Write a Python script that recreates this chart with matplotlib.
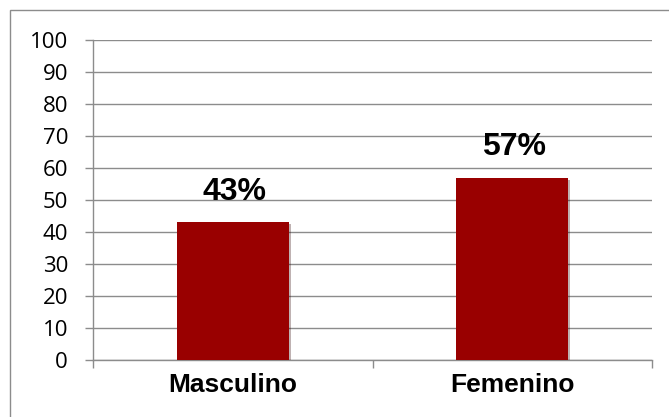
import matplotlib
matplotlib.use("Agg")
import matplotlib.pyplot as plt
import matplotlib.patches as patches
import matplotlib.patheffects as pe

categories = ["Masculino", "Femenino"]
percentages = [43, 57]
y_ticks = [0, 10, 20, 30, 40, 50, 60, 70, 80, 90, 100]

bar_color = "#990000"
grid_color = "#8c8c8c"

plt.rcParams["font.family"] = ["Open Sans", "DejaVu Sans"]

fig = plt.figure(figsize=(6.69, 4.17), dpi=100)
fig.patch.set_facecolor("white")

# chart frame, runs off the right and bottom edges
frame = patches.Rectangle((10 / 669, -0.1), 1.2, 1 - 10 / 417 + 0.1,
                          transform=fig.transFigure, fill=False,
                          edgecolor="#8c8c8c", linewidth=1.0)
fig.patches.append(frame)

ax = fig.add_axes([93 / 669, 1 - 360 / 417, (652 - 93) / 669, 320 / 417])

x = list(range(len(categories)))
bars = ax.bar(x, percentages, width=0.4, color=bar_color, zorder=3)
for b in bars:
    b.set_path_effects([pe.SimplePatchShadow(offset=(1.5, -1.5), alpha=0.3),
                        pe.Normal()])

for xi, v in zip(x, percentages):
    ax.annotate(f"{v}%", (xi, v), xytext=(1, 16), textcoords="offset points",
                ha="center", va="baseline", fontsize=23, fontweight="bold",
                family="Liberation Sans", zorder=4)

ax.set_xlim(-0.5, 1.5)
ax.set_ylim(0, 100)
ax.set_yticks(y_ticks)
ax.yaxis.grid(True, color=grid_color, linewidth=1.0, zorder=0)
ax.set_axisbelow(True)

ax.set_xticks(x)
ax.set_xticklabels(categories, fontsize=19, fontweight="bold", family="Liberation Sans")
ax.set_xticks([-0.5, 0.5, 1.5], minor=True)
ax.tick_params(axis="x", which="major", length=0, pad=9.5)
ax.tick_params(axis="x", which="minor", length=6, color=grid_color, width=1.0)
ax.tick_params(axis="y", length=6, color=grid_color, width=1.0, pad=12, labelsize=16)

for side in ["top", "right"]:
    ax.spines[side].set_visible(False)
for side in ["left", "bottom"]:
    ax.spines[side].set_color(grid_color)
    ax.spines[side].set_linewidth(1.0)

fig.savefig("out.png", dpi=100)
